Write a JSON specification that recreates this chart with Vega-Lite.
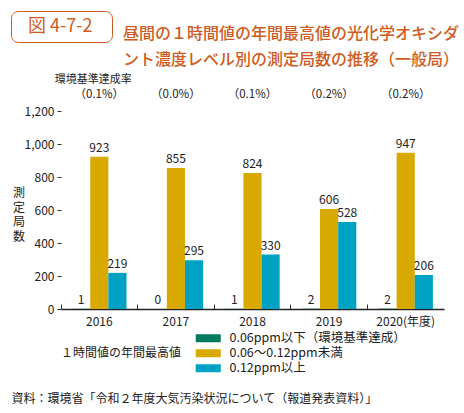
{
  "$schema": "https://vega.github.io/schema/vega-lite/v6.json",
  "padding": {"left": 10, "top": 10, "right": 0, "bottom": 0},
  "background": "white",
  "width": 383,
  "height": 198,
  "config": {
    "font": "Noto Sans CJK JP",
    "view": {"stroke": null}
  },
  "resolve": {"axis": {"x": "independent", "y": "independent"}},
  "datasets": {
    "counts": [
      {"year": "2016", "level": "0.06ppm以下（環境基準達成）", "count": 1},
      {"year": "2016", "level": "0.06～0.12ppm未満", "count": 923},
      {"year": "2016", "level": "0.12ppm以上", "count": 219},
      {"year": "2017", "level": "0.06ppm以下（環境基準達成）", "count": 0},
      {"year": "2017", "level": "0.06～0.12ppm未満", "count": 855},
      {"year": "2017", "level": "0.12ppm以上", "count": 295},
      {"year": "2018", "level": "0.06ppm以下（環境基準達成）", "count": 1},
      {"year": "2018", "level": "0.06～0.12ppm未満", "count": 824},
      {"year": "2018", "level": "0.12ppm以上", "count": 330},
      {"year": "2019", "level": "0.06ppm以下（環境基準達成）", "count": 2},
      {"year": "2019", "level": "0.06～0.12ppm未満", "count": 606},
      {"year": "2019", "level": "0.12ppm以上", "count": 528},
      {"year": "2020", "level": "0.06ppm以下（環境基準達成）", "count": 2},
      {"year": "2020", "level": "0.06～0.12ppm未満", "count": 947},
      {"year": "2020", "level": "0.12ppm以上", "count": 206}
    ],
    "rates": [
      {"year": "2016", "rate": "（0.1%）"},
      {"year": "2017", "rate": "（0.0%）"},
      {"year": "2018", "rate": "（0.1%）"},
      {"year": "2019", "rate": "（0.2%）"},
      {"year": "2020", "rate": "（0.2%）"}
    ]
  },
  "title": {
    "text": ["昼間の１時間値の年間最高値の光化学オキシダ", "ント濃度レベル別の測定局数の推移（一般局）"],
    "anchor": "start", "frame": "group", "dx": 62, "baseline": "top",
    "offset": -57, "fontSize": 16, "fontWeight": 500, "color": "#cf5b22",
    "lineHeight": 26
  },
  "layer": [
    {
      "data": {"name": "counts"},
      "mark": {"type": "bar"},
      "encoding": {
        "x": {
          "field": "year", "type": "nominal",
          "scale": {"paddingInner": 0.29, "paddingOuter": 0.145},
          "axis": {
            "title": "資料：環境省「令和２年度大気汚染状況について（報道発表資料）」",
            "titleX": -50, "titleY": 89, "titleAnchor": "start", "titleAlign": "left",
            "titleBaseline": "middle", "titleFontSize": 12, "titleFontWeight": "normal", "titleColor": "#222",
            "labelAngle": 0, "labelFontSize": 12, "labelColor": "#222",
            "labelExpr": "datum.value == '2020' ? '2020(年度)' : datum.value",
            "domainColor": "#222", "domainWidth": 1.5,
            "tickSize": -5, "tickColor": "#333", "bandPosition": -0.204,
            "labelPadding": 12
          }
        },
        "xOffset": {
          "field": "level", "type": "nominal",
          "sort": ["0.06ppm以下（環境基準達成）", "0.06～0.12ppm未満", "0.12ppm以上"]
        },
        "y": {
          "field": "count", "type": "quantitative",
          "scale": {"domain": [0, 1200]},
          "axis": {
            "title": ["測", "定", "局", "数"], "titleAngle": 0.001, "titleFontSize": 12,
            "titleLineHeight": 14.5, "titleFontWeight": "normal", "titleColor": "#222",
            "titleX": -42.5, "titleY": 82, "titleBaseline": "middle", "titleAlign": "center",
            "values": [0, 200, 400, 600, 800, 1000, 1200],
            "labelExpr": "format(datum.value, ',d')",
            "labelOverlap": false,
            "domain": false, "grid": false, "tickSize": 4, "tickColor": "#333",
            "labelFontSize": 12, "labelColor": "#222", "labelPadding": 3
          }
        },
        "color": {
          "field": "level", "type": "nominal",
          "scale": {
            "domain": ["0.06ppm以下（環境基準達成）", "0.06～0.12ppm未満", "0.12ppm以上"],
            "range": ["#007b5f", "#d8a900", "#00a2c4"]
          },
          "legend": {
            "orient": "none", "legendX": 0, "legendY": 221,
            "title": "１時間値の年間最高値", "titleOrient": "left", "titleAnchor": "middle",
            "titleBaseline": "middle",
            "titleFontSize": 12, "titleFontWeight": "normal", "titleColor": "#222", "titlePadding": 20,
            "symbolType": "M-2.5,-0.8H2.5V0.8H-2.5Z", "symbolSize": 100, "symbolStrokeWidth": 0,
            "symbolOpacity": 1,
            "labelFontSize": 12.5, "labelColor": "#222", "labelOffset": 15, "rowPadding": 2,
            "labelLimit": 300,
            "direction": "vertical"
          }
        }
      }
    },
    {
      "data": {"name": "counts"},
      "mark": {"type": "text", "fontSize": 12, "color": "#222", "baseline": "bottom", "dy": -2},
      "encoding": {
        "x": {"field": "year", "type": "nominal", "axis": null},
        "xOffset": {"field": "level", "type": "nominal",
          "sort": ["0.06ppm以下（環境基準達成）", "0.06～0.12ppm未満", "0.12ppm以上"]},
        "y": {"field": "count", "type": "quantitative", "axis": null},
        "text": {"field": "count", "type": "quantitative"}
      }
    },
    {
      "data": {"name": "rates"},
      "mark": {"type": "text", "fontSize": 11.5, "color": "#222", "baseline": "middle"},
      "encoding": {
        "x": {"field": "year", "type": "nominal", "axis": null},
        "y": {"datum": 1300, "axis": null},
        "text": {"field": "rate"}
      }
    },
    {
      "data": {"values": [{"t": "環境基準達成率"}]},
      "mark": {"type": "text", "fontSize": 11, "color": "#222", "baseline": "middle", "dx": -6},
      "encoding": {
        "x": {"datum": "2016", "axis": null},
        "y": {"datum": 1385, "axis": null},
        "text": {"field": "t"}
      }
    },
    {
      "data": {"values": [{"fig": "図 4-7-2"}]},
      "mark": {"type": "point", "opacity": 0},
      "encoding": {
        "shape": {
          "field": "fig", "type": "nominal",
          "legend": {
            "orient": "none", "legendX": -50, "legendY": -100,
            "title": "図", "titleOrient": "right", "titleOpacity": 0, "titleFontSize": 8, "titlePadding": 4.5,
            "strokeColor": "#cf5b22", "cornerRadius": 7, "padding": 6.5,
            "symbolSize": 0, "symbolOpacity": 0, "symbolStrokeWidth": 0, "labelOffset": -7.5,
            "labelFontSize": 18, "labelColor": "#cf5b22",
            "encode": {"legend": {"update": {"strokeWidth": {"value": 1.5}}}}
          }
        }
      }
    }
  ]
}
